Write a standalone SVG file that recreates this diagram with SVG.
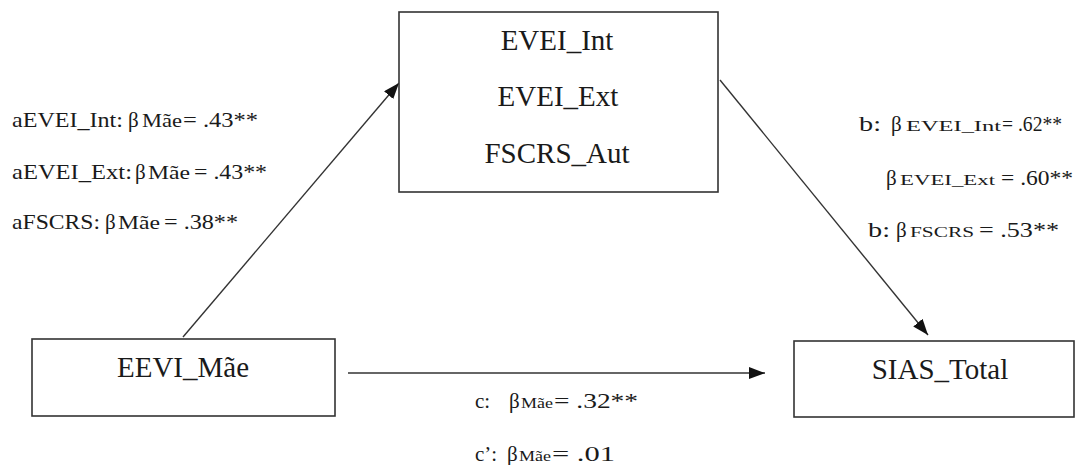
<svg xmlns="http://www.w3.org/2000/svg" width="1075" height="465" viewBox="0 0 1075 465">
<style>
.box{fill:#fff;stroke:#333;stroke-width:1.6}
.nt{font-family:"Liberation Serif","Times New Roman",serif;font-size:29px;fill:#1a1a1a;text-anchor:middle}
.lb{font-family:"Liberation Serif","Times New Roman",serif;font-size:21px;fill:#1a1a1a}
.sm{font-size:19px}
.sr{font-size:15px}
.edge{stroke:#333;stroke-width:1.4;fill:none}
</style>
<defs>
<marker id="ah" viewBox="0 0 16 12" refX="16" refY="6" markerWidth="16" markerHeight="12" markerUnits="userSpaceOnUse" orient="auto">
<path d="M0,0 L16,6 L0,12 z" fill="#111"/>
</marker>
</defs>
<rect width="1075" height="465" fill="#fff"/>
<g id="connectors">
<line class="edge" x1="183" y1="337" x2="399" y2="83" marker-end="url(#ah)"/>
<line class="edge" x1="720" y1="80" x2="928" y2="335" marker-end="url(#ah)"/>
<line class="edge" x1="348" y1="373" x2="765" y2="373" marker-end="url(#ah)"/>
</g>
<g id="node-mediators">
<rect class="box" x="399" y="12" width="319" height="180"/>
<text class="nt" x="557" y="50">EVEI_Int</text>
<text class="nt" x="558" y="106">EVEI_Ext</text>
<text class="nt" x="557" y="163">FSCRS_Aut</text>
</g>
<g id="node-eevi">
<rect class="box" x="32" y="339" width="303" height="77"/>
<text class="nt" x="183" y="377">EEVI_Mãe</text>
</g>
<g id="node-sias">
<rect class="box" x="794" y="341" width="280" height="76"/>
<text class="nt" x="940" y="379">SIAS_Total</text>
</g>
<g id="labels-a">
<text class="lb" y="127"><tspan x="12" textLength="111" lengthAdjust="spacingAndGlyphs">aEVEI_Int:</tspan><tspan x="128">β</tspan><tspan class="sm" x="142" textLength="40" lengthAdjust="spacingAndGlyphs">Mãe</tspan><tspan x="183" textLength="75" lengthAdjust="spacingAndGlyphs">= .43**</tspan></text>
<text class="lb" y="179"><tspan x="12" textLength="120" lengthAdjust="spacingAndGlyphs">aEVEI_Ext:</tspan><tspan x="135">β</tspan><tspan class="sm" x="148" textLength="42" lengthAdjust="spacingAndGlyphs">Mãe</tspan><tspan x="194" textLength="73" lengthAdjust="spacingAndGlyphs">= .43**</tspan></text>
<text class="lb" y="229"><tspan x="12" textLength="88" lengthAdjust="spacingAndGlyphs">aFSCRS:</tspan><tspan x="105">β</tspan><tspan class="sm" x="118" textLength="42" lengthAdjust="spacingAndGlyphs">Mãe</tspan><tspan x="164" textLength="74" lengthAdjust="spacingAndGlyphs">= .38**</tspan></text>
</g>
<g id="labels-b">
<text class="lb" y="131"><tspan x="859" textLength="22" lengthAdjust="spacingAndGlyphs">b:</tspan><tspan x="891">β</tspan><tspan class="sr" x="906" textLength="95" lengthAdjust="spacingAndGlyphs">EVEI_Int</tspan><tspan x="1002" textLength="60" lengthAdjust="spacingAndGlyphs">= .62**</tspan></text>
<text class="lb" y="185"><tspan x="886">β</tspan><tspan class="sr" x="900" textLength="95" lengthAdjust="spacingAndGlyphs">EVEI_Ext</tspan><tspan x="1001" textLength="72" lengthAdjust="spacingAndGlyphs">= .60**</tspan></text>
<text class="lb" y="237"><tspan x="868" textLength="22" lengthAdjust="spacingAndGlyphs">b:</tspan><tspan x="896">β</tspan><tspan class="sr" x="910" textLength="64" lengthAdjust="spacingAndGlyphs">FSCRS</tspan><tspan x="979" textLength="80" lengthAdjust="spacingAndGlyphs">= .53**</tspan></text>
</g>
<g id="labels-c">
<text class="lb" y="408"><tspan x="475">c:</tspan><tspan x="509">β</tspan><tspan class="sr" x="521" textLength="32" lengthAdjust="spacingAndGlyphs">Mãe</tspan><tspan x="554" textLength="84" lengthAdjust="spacingAndGlyphs">= .32**</tspan></text>
<text class="lb" y="461"><tspan x="475">c’:</tspan><tspan x="507">β</tspan><tspan class="sr" x="519" textLength="32" lengthAdjust="spacingAndGlyphs">Mãe</tspan><tspan x="552" textLength="63" lengthAdjust="spacingAndGlyphs">= .01</tspan></text>
</g>
</svg>
